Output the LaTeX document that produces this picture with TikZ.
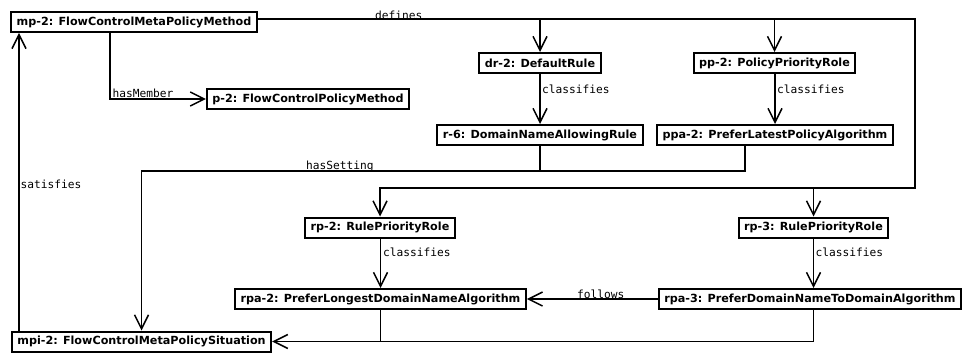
\documentclass[tikz,border=0pt]{standalone}
\usepackage{fontspec}
\setmainfont{DejaVu Sans}
\newfontfamily\lblfont{DejaVu Sans Mono}
\usetikzlibrary{arrows.meta}
\tikzset{
  obj/.style={draw, line width=2pt, fill=white, inner xsep=5.5pt, inner ysep=0pt,
    minimum height=20pt, font=\fontsize{11.2}{13}\selectfont\bfseries, anchor=center},
  rel/.style={line width=1.5pt},
  relarrow/.style={rel, -{Straight Barb[length=14pt,width=14pt,line width=1.5pt]}},
  rellabel/.style={inner sep=0pt, font=\lblfont\fontsize{11.2}{13}\selectfont},
}
\begin{document}
\begin{tikzpicture}[x=1pt, y=-1pt]
\useasboundingbox (0,0) rectangle (962,353);

% individuals
\node[obj] (mp)   at (134,22)    {mp-2: FlowControlMetaPolicyMethod};
\node[obj] (p2)   at (308,99)    {p-2: FlowControlPolicyMethod};
\node[obj] (dr)   at (540,63)    {dr-2: DefaultRule};
\node[obj] (pp)   at (774.5,63)  {pp-2: PolicyPriorityRole};
\node[obj] (r6)   at (540,135)   {r-6: DomainNameAllowingRule};
\node[obj] (ppa)  at (775,135)   {ppa-2: PreferLatestPolicyAlgorithm};
\node[obj] (rp2)  at (380,227.5) {rp-2: RulePriorityRole};
\node[obj] (rp3)  at (813.5,227.5) {rp-3: RulePriorityRole};
\node[obj] (rpa2) at (380.5,299) {rpa-2: PreferLongestDomainNameAlgorithm};
\node[obj] (rpa3) at (810,299)   {rpa-3: PreferDomainNameToDomainAlgorithm};
\node[obj] (mpi)  at (141.5,341.5) {mpi-2: FlowControlMetaPolicySituation};

% routing points
\coordinate (d1) at (915,19);
\coordinate (d2) at (915,188);
\coordinate (hm) at (110,99);
\coordinate (hs) at (141.5,171);
\coordinate (sx) at (19,0);

% defines
\draw[relarrow] (mp.east |- d1) -- (d1) -- (d2) -| (rp2);
\draw[relarrow] (dr |- d1) -- (dr);
\draw[relarrow] (pp |- d1) -- (pp);
\draw[relarrow] (rp3 |- d2) -- (rp3);
\node[rellabel, anchor=base west] (ldef) at (375,19.5) {defines};

% hasMember
\draw[relarrow] (mp.south -| hm) |- (p2);
\node[rellabel, anchor=base west] (lhm) at (112.5,98) {hasMember};

% classifies
\draw[relarrow] (dr) -- (r6);
\node[rellabel, anchor=west] (lc1) at (542,89) {classifies};
\draw[relarrow] (pp.south -| ppa) -- (ppa);
\node[rellabel, anchor=west] (lc2) at (777,89) {classifies};
\draw[relarrow] (rp2.south -| rpa2) -- (rpa2);
\node[rellabel, anchor=west] (lc3) at (383,252.5) {classifies};
\draw[relarrow] (rp3.south) -- (rp3.south |- rpa3.north);
\node[rellabel, anchor=west] (lc4) at (815.5,252.5) {classifies};

% hasSetting
\draw[rel] (r6) -- (r6 |- hs);
\draw[relarrow] ([xshift=-30pt]ppa.south) |- (hs) -- (mpi);
\node[rellabel, anchor=base west] (lhs) at (306,169.5) {hasSetting};

% satisfies
\draw[relarrow] (mpi.north -| sx) -- (mp.south -| sx);
\node[rellabel, anchor=west] (lsat) at (20.5,184) {satisfies};

% follows
\draw[relarrow] (rpa3) -- (rpa2);
\node[rellabel, anchor=base west] (lfol) at (577,298.5) {follows};

% into the situation
\draw[rel] (rpa2) -- (rpa2 |- mpi);
\draw[relarrow] (rpa3.south -| rp3) |- (mpi);
\end{tikzpicture}
\end{document}
